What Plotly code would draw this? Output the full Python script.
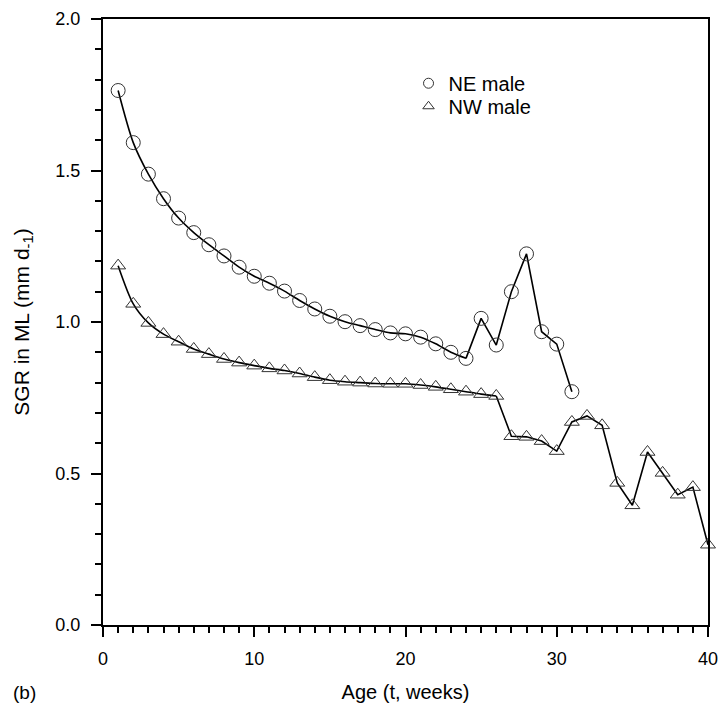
import plotly.graph_objects as go

weeks_ne = list(range(1, 32))
sgr_ne = [1.764, 1.592, 1.488, 1.407, 1.343, 1.295, 1.255, 1.218, 1.181, 1.151,
          1.128, 1.102, 1.071, 1.043, 1.019, 1.001, 0.988, 0.975, 0.964, 0.961,
          0.950, 0.928, 0.900, 0.880, 1.012, 0.924, 1.100, 1.225, 0.968, 0.927, 0.770]

weeks_nw = list(range(1, 41))
sgr_nw = [1.186, 1.060, 0.997, 0.960, 0.935, 0.911, 0.894, 0.878, 0.866, 0.856,
          0.847, 0.840, 0.830, 0.818, 0.808, 0.803, 0.800, 0.797, 0.796, 0.796,
          0.792, 0.786, 0.778, 0.770, 0.762, 0.756, 0.623, 0.621, 0.607, 0.574,
          0.670, 0.690, 0.659, 0.469, 0.395, 0.571, 0.502, 0.430, 0.455, 0.265]

smooth_end_ne = 24   # fitted curve up to week 24
smooth_end_nw = 26   # fitted curve up to week 26

x_ticks = [0, 10, 20, 30, 40]
y_ticks = [0.0, 0.5, 1.0, 1.5, 2.0]

FONT = "Liberation Sans, Arial, sans-serif"
LC = "black"
MC = "#333333"

fig = go.Figure()

def add_series(x, y, n_smooth, symbol, msize, name, legend_id):
    fig.add_trace(go.Scatter(x=x[:n_smooth], y=y[:n_smooth], mode="lines",
                             line=dict(color=LC, width=1.6, shape="spline", smoothing=0.8),
                             showlegend=False, hoverinfo="skip", cliponaxis=False))
    fig.add_trace(go.Scatter(x=x[n_smooth - 1:], y=y[n_smooth - 1:], mode="lines",
                             line=dict(color=LC, width=1.6),
                             showlegend=False, hoverinfo="skip", cliponaxis=False))
    fig.add_trace(go.Scatter(x=x, y=y, mode="markers", name=name,
                             marker=dict(symbol=symbol, size=msize, color=MC,
                                         line=dict(color=MC, width=1)),
                             showlegend=False, cliponaxis=False))
    fig.add_trace(go.Scatter(x=[None], y=[None], mode="markers", name=name,
                             marker=dict(symbol=symbol, size=10, color=MC,
                                         line=dict(color=MC, width=1)),
                             showlegend=True, legend=legend_id))

add_series(weeks_ne, sgr_ne, smooth_end_ne, "circle-open", 14, "NE male", "legend")
add_series(weeks_nw, sgr_nw, smooth_end_nw, "triangle-up-open", 13, "NW male", "legend2")

leg_common = dict(xanchor="left", yanchor="middle", bgcolor="rgba(0,0,0,0)",
                  font=dict(size=20, family=FONT), itemwidth=30)

fig.update_layout(
    width=722, height=709,
    margin=dict(l=103, r=14, t=19, b=84),
    paper_bgcolor="white", plot_bgcolor="white",
    font=dict(family=FONT, size=17, color="black"),
    legend=dict(x=0.505, y=0.894, **leg_common),
    legend2=dict(x=0.505, y=0.856, **leg_common),
    showlegend=True,
)

fig.update_xaxes(
    range=[0, 40], tickvals=x_ticks, ticktext=[str(v) for v in x_ticks],
    showline=True, linecolor="black", linewidth=2, mirror=True,
    ticks="outside", ticklen=10, tickwidth=2, tickcolor="black",
    minor=dict(dtick=1, ticks="outside", ticklen=6, tickwidth=2, tickcolor="black"),
    showgrid=False, zeroline=False, automargin=False, ticklabelstandoff=6,
    title=dict(text="Age (t, weeks)", font=dict(size=20, family=FONT), standoff=17),
    tickfont=dict(size=18, family=FONT),
)
fig.update_yaxes(
    range=[0, 2], tickvals=y_ticks, ticktext=[f"{v:.1f}" for v in y_ticks],
    showline=True, linecolor="black", linewidth=2, mirror=True,
    ticks="outside", ticklen=10, tickwidth=2, tickcolor="black",
    minor=dict(dtick=0.1, ticks="outside", ticklen=6, tickwidth=2, tickcolor="black"),
    showgrid=False, zeroline=False, automargin=False, ticklabelstandoff=7,
    title=dict(text="SGR in ML (mm d<sub>-1</sub>)", font=dict(size=21, family=FONT), standoff=20),
    tickfont=dict(size=18, family=FONT),
)

fig.add_annotation(text="(b)", xref="paper", yref="paper", x=-0.152, y=-0.112,
                   xanchor="left", yanchor="middle", showarrow=False,
                   font=dict(size=19, family=FONT))

fig.write_html("out.html", config={"displayModeBar": False},
               post_script="document.body.style.margin='0';document.body.style.overflow='hidden';")
